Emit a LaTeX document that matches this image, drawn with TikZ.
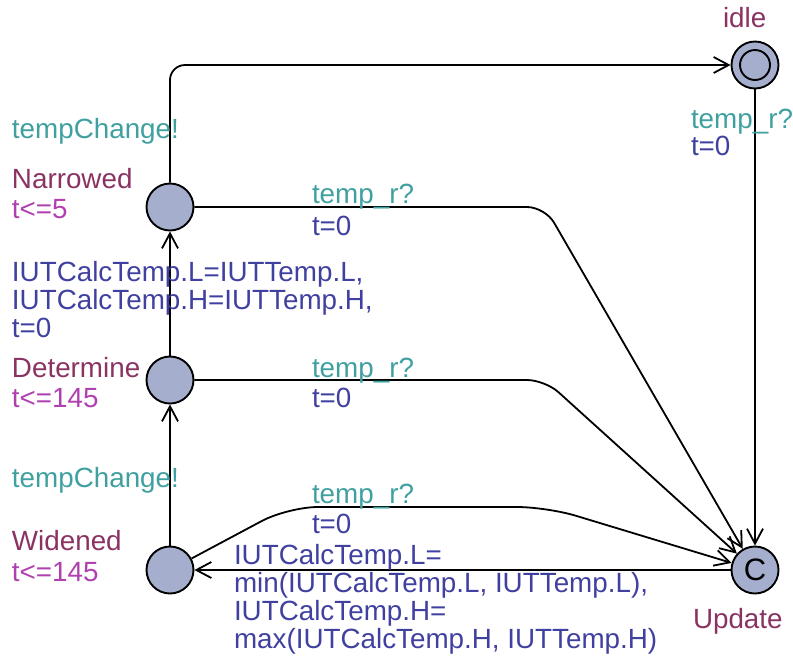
\documentclass[tikz,border=0pt]{standalone}
\usepackage{fontspec}
\setmainfont{Liberation Sans}
\usetikzlibrary{arrows.meta}

\definecolor{locname}{RGB}{138,51,99}
\definecolor{invcol}{RGB}{176,64,176}
\definecolor{synccol}{RGB}{64,160,160}
\definecolor{assigncol}{RGB}{64,64,160}
\definecolor{locfill}{RGB}{165,174,205}

\begin{document}
\begin{tikzpicture}[x=1pt,y=-1pt,
  every node/.style={font=\fontsize{27.8}{28}\selectfont},
  loc/.style={circle,draw=black,line width=1.9pt,fill=locfill,minimum size=47pt,inner sep=0pt},
  lbl/.style={anchor=base west,inner sep=0pt,outer sep=0pt,align=left},
  locnm/.style={lbl,text=locname},
  inv/.style={lbl,text=invcol},
  sync/.style={lbl,text=synccol},
  assign/.style={lbl,text=assigncol},
  edge/.style={draw=black,line width=1.8pt,-{Straight Barb[length=15pt,width=16pt]},rounded corners=18pt}
]
\useasboundingbox (0,0) rectangle (793,657);

% locations
\node[loc] (N) at (170,207) {};
\node[loc] (D) at (170,380) {};
\node[loc] (W) at (170,570) {};
\node[loc] (I) at (755,65) {};
\node[circle,draw=black,line width=1.9pt,minimum size=30pt,inner sep=0pt] (Iin) at (I) {};
\node[loc] (U) at (755,570) {\fontsize{31}{31}\selectfont C};

% transitions
\draw[edge,rounded corners=15pt] (N) |- (I);
\draw[edge] (I) -- (U);
\draw[edge] (N) -- (545,207) -- (U);
\draw[edge] (D) -- (545,380) -- (U);
\draw[edge,rounded corners=30pt] (W) -- (288,507) -- (547,507) -- (U);
\draw[edge] (U) -- (W);
\draw[edge] (W) -- (D);
\draw[edge] (D) -- (N);

% location names and invariants
\node[locnm] (nI) at (723,27) {idle};
\node[locnm] (nN) at (12,188) {Narrowed};
\node[inv]  (iN) at (12,218) {t<=5};
\node[locnm] (nD) at (12,377) {Determine};
\node[inv]  (iD) at (12,407) {t<=145};
\node[locnm] (nW) at (12,550) {Widened};
\node[inv]  (iW) at (12,581) {t<=145};
\node[locnm] (nU) at (693,628) {Update};

% labels of idle -> Update
\node[sync]   (s1) at (691,128) {temp\_r?};
\node[assign] (a1) at (691,155) {t=0};
% label of Narrowed -> idle
\node[sync]   (s2) at (12,138) {tempChange!};
% labels of Narrowed -> Update
\node[sync]   (s3) at (312,203) {temp\_r?};
\node[assign] (a3) at (312,235) {t=0};
% label of Determine -> Narrowed (base anchor sits on the last line)
\node[assign] (a4) at (12,337) {IUTCalcTemp.L=IUTTemp.L,\\IUTCalcTemp.H=IUTTemp.H,\\t=0};
% labels of Determine -> Update
\node[sync]   (s5) at (312,377) {temp\_r?};
\node[assign] (a5) at (312,407) {t=0};
% label of Widened -> Determine
\node[sync]   (s6) at (12,487) {tempChange!};
% labels of Widened -> Update
\node[sync]   (s7) at (312,503) {temp\_r?};
\node[assign] (a7) at (312,533) {t=0};
% label of Update -> Widened (base anchor sits on the last line)
\node[assign] (a8) at (234,648) {IUTCalcTemp.L=\\min(IUTCalcTemp.L, IUTTemp.L),\\IUTCalcTemp.H=\\max(IUTCalcTemp.H, IUTTemp.H)};
\end{tikzpicture}
\end{document}
